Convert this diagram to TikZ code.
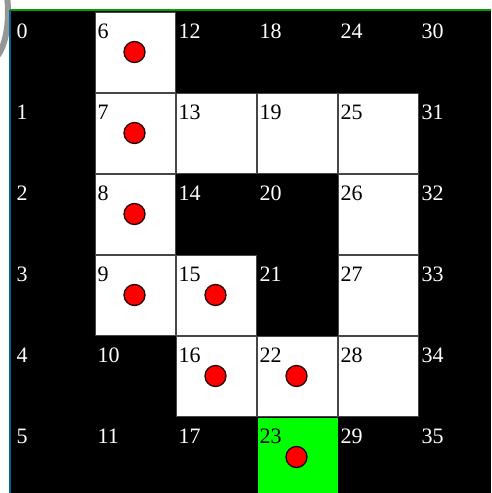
\documentclass[tikz,border=0pt]{standalone}
\usepackage{fontspec}
\setmainfont{Liberation Serif}
\definecolor{cellgreen}{RGB}{0,255,0}
\definecolor{topline}{RGB}{0,160,0}
\definecolor{leftline}{RGB}{0,100,140}
\definecolor{cellborder}{RGB}{70,70,70}
\definecolor{arcgray}{RGB}{150,150,150}
\begin{document}
\begin{tikzpicture}[x=1pt,y=-1pt,
  wcell/.style={fill=white,draw=cellborder,line width=1pt},
  gcell/.style={fill=cellgreen},
  lbl/.style={anchor=base west,inner sep=0pt,font=\fontsize{22}{22}\selectfont},
  wlbl/.style={lbl,text=white},
  blbl/.style={lbl,text=black},
  reddot/.style={circle,fill=red,draw=black!85!red,line width=1.3pt,minimum size=21pt,inner sep=0pt}]
\useasboundingbox (0,0) rectangle (491,493);
\clip (0,0) rectangle (491,493);
\fill[white] (0,0) rectangle (491,493);
% gray arc at top-left
\draw[arcgray,line width=6pt] (-10,12) ellipse [x radius=18, y radius=48];
% black board
\fill[black] (11,11) rectangle (491,493);
\draw[topline,line width=2pt] (10,10) -- (491,10);
\draw[leftline,line width=2pt] (10,10) -- (10,493);
% white cells
\foreach \n/\c/\r in {6/1/0,7/1/1,8/1/2,9/1/3,13/2/1,15/2/3,16/2/4,19/3/1,22/3/4,25/4/1,26/4/2,27/4/3,28/4/4}{
  \draw[wcell] ({14+81*\c+0.5},{12+81*\r+0.5}) rectangle ++(80,80);
}
% green goal cell
\fill[gcell] ({14+81*3+0.5},{12+81*5+1}) rectangle ++(80,80);
% labels on black cells (white text)
\foreach \n/\c/\r in {0/0/0,1/0/1,2/0/2,3/0/3,4/0/4,5/0/5,10/1/4,11/1/5,12/2/0,14/2/2,17/2/5,18/3/0,20/3/2,21/3/3,24/4/0,29/4/5,30/5/0,31/5/1,32/5/2,33/5/3,34/5/4,35/5/5}{
  \node[wlbl] (l\n) at ({14+81*\c+2.5},{12+81*\r+26}) {\n};
}
% labels on white / green cells (black text)
\foreach \n/\c/\r in {6/1/0,7/1/1,8/1/2,9/1/3,13/2/1,15/2/3,16/2/4,19/3/1,22/3/4,23/3/5,25/4/1,26/4/2,27/4/3,28/4/4}{
  \node[blbl] (l\n) at ({14+81*\c+2.5},{12+81*\r+26}) {\n};
}
% red dots
\foreach \n/\c/\r in {6/1/0,7/1/1,8/1/2,9/1/3,15/2/3,16/2/4,22/3/4,23/3/5}{
  \node[reddot] (d\n) at ({14+81*\c+39.5},{12+81*\r+40}) {};
}
\end{tikzpicture}
\end{document}
